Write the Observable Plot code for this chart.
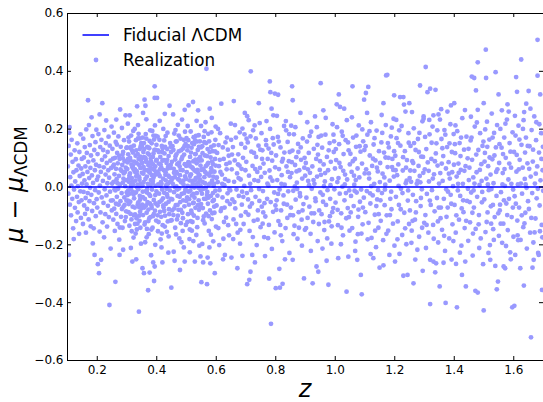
<!DOCTYPE html>
<html><head><meta charset="utf-8">
<script src="https://cdn.jsdelivr.net/npm/d3@7"></script>
<script src="https://cdn.jsdelivr.net/npm/@observablehq/plot@0.6"></script>
<style>html,body{margin:0;padding:0;background:#fff;overflow:hidden}</style>
</head><body><div id="chart"></div>
<script>
// Δμ realization points, grouped by redshift range: [z, mu - mu_LCDM]
const lowZ = [
[.101,.071],[.103,-.023],[.104,.142],[.105,-.235],[.106,.188],[.107,.207],[.108,-.061],[.109,.034],[.111,.112],[.112,-.098],[.113,.005],[.114,.163],[.116,-.041],[.117,.087],[.119,-.143],[.12,.051],[.121,-.18],[.122,-.009],[.124,.127],[.125,-.072],[.126,.019],[.128,.096],[.129,-.118],[.13,.058],[.132,-.034],[.133,.151],[.134,-.088],[.135,.003],[.137,.074],[.138,-.052],[.139,-.162],[.14,.121],[.141,.038],[.143,-.015],[.144,.182],[.145,-.107],[.146,.064],[.147,-.046],[.148,.097],[.149,.012],
[.151,.045],[.152,-.128],[.153,.167],[.154,-.017],[.155,.102],[.156,-.064],[.157,.023],[.158,.138],[.159,-.093],[.16,.071],[.161,-.038],[.162,-.158],[.163,.199],[.164,.009],[.165,.118],[.166,-.076],[.167,.052],[.168,-.021],[.169,.30],[.17,.087],[.171,-.112],[.172,.214],[.173,.031],[.174,-.049],[.175,.145],[.176,-.003],[.177,.066],[.178,-.136],[.179,.109],[.18,-.027],[.181,.241],[.182,.04],[.183,-.083],[.184,.176],[.185,-.195],[.186,.014],[.187,.092],[.188,-.143],[.189,-.056],[.19,.128],[.191,-.235],[.192,.058],[.193,-.011],[.194,.155],[.195,-.101],[.196,.077],[.197,.198],[.198,-.042],[.199,.025],
[.2,-.071],[.201,.114],[.202,-.267],[.203,.036],[.204,.183],[.205,-.019],[.206,-.298],[.207,.072],[.208,.251],[.208,-.154],[.209,.005],[.21,.138],[.211,-.088],[.212,.052],[.213,-.252],[.214,.163],[.215,-.036],[.216,.094],[.217,.29],[.218,-.122],[.219,.021],[.22,.128],[.221,-.055],[.222,.068],[.223,-.174],[.224,.197],[.225,-.008],[.226,.106],[.227,-.094],[.228,.043],[.229,.152],[.23,.23],[.231,-.029],[.232,.083],[.233,-.137],[.234,.013],[.235,.121],[.236,-.065],[.237,.058],[.238,.174],[.239,-.104],[.24,.032],[.241,-.408],[.242,.143],[.243,-.016],[.244,.091],[.245,-.213],[.246,-.047],[.247,.066],[.248,.209],[.249,-.081],[.25,.012],
[.251,.132],[.252,-.046],[.253,.071],[.254,-.113],[.255,.018],[.256,.188],[.257,-.075],[.258,.044],[.259,-.152],[.26,.101],[.261,-.328],[.261,-.012],[.262,.156],[.263,.063],[.264,.233],[.264,-.093],[.265,.027],[.266,-.034],[.267,.118],[.268,-.128],[.269,.082],[.27,-.006],[.271,.175],[.272,-.061],[.273,.038],[.274,-.182],[.275,.097],[.275,-.235],[.276,.009],[.277,.268],[.278,-.049],[.279,.139],[.28,-.103],[.281,.056],[.282,-.021],[.283,.204],[.284,.076],[.285,-.141],[.286,.015],[.287,-.217],[.287,.121],[.288,-.068],[.289,.047],[.29,.162],[.291,-.036],[.292,.089],[.293,-.118],[.294,.003],[.295,.248],[.296,.067],[.297,-.084],[.298,.135],[.299,-.019],[.253,.098],[.258,-.008],[.263,-.058],[.268,.013],[.273,.108],[.278,.061],[.283,-.076],[.288,.029],[.293,.052],[.298,-.047],[.256,.077],[.266,.147],[.276,-.14],[.286,.099],[.296,-.104]
];
const peakZ = [
[.301,.062],[.302,-.028],[.303,.219],[.304,.113],[.305,-.087],[.306,.018],[.307,.157],[.308,-.134],[.309,.248],[.31,.047],[.311,-.051],[.312,.092],[.313,-.006],[.314,.178],[.315,-.112],[.316,.031],[.317,.127],[.318,-.258],[.319,-.068],[.32,.074],[.321,.009],[.322,-.175],[.323,.143],[.324,-.039],[.325,.056],[.326,.201],[.327,-.095],[.328,.022],[.329,.108],[.33,-.019],[.331,-.25],[.332,.083],[.333,-.147],[.334,.279],[.335,.041],[.336,-.061],[.337,.168],[.338,-.008],[.339,.097],[.34,-.431],[.341,.034],[.342,-.117],[.343,.131],[.344,-.044],[.345,.066],[.346,.012],[.347,-.196],[.348,.152],[.349,-.074],[.35,.049],
[.3,.137],[.302,.085],[.304,-.012],[.306,-.059],[.308,.039],[.31,.101],[.312,-.093],[.314,.006],[.316,-.153],[.318,.068],[.32,.119],[.322,-.026],[.324,.088],[.326,-.071],[.328,.051],[.33,.162],[.332,-.108],[.334,-.001],[.336,.114],[.338,-.053],[.34,.077],[.342,.025],[.344,-.086],[.346,.141],[.348,.003],[.303,-.047],[.307,.029],[.311,.135],[.315,.077],[.319,-.016],[.323,-.098],[.327,.061],[.331,.037],[.335,-.127],[.339,.184],[.343,-.031],[.347,.093],[.305,.171],[.313,-.211],[.321,.194],[.329,-.161],[.337,.214],[.345,-.141],[.333,.054],[.341,-.07],
[.351,.083],[.352,-.281],[.353,-.035],[.354,.256],[.355,.121],[.356,.017],[.357,-.298],[.358,-.071],[.359,.302],[.36,.058],[.361,-.122],[.362,.281],[.363,.096],[.364,-.014],[.365,.167],[.366,-.089],[.367,.036],[.368,.139],[.369,-.052],[.37,.011],[.371,-.357],[.372,.075],[.373,-.163],[.374,.112],[.375,-.026],[.376,-.296],[.377,.049],[.378,.196],[.379,-.104],[.38,.024],[.381,.088],[.382,-.064],[.383,.151],[.384,-.009],[.385,.063],[.386,-.141],[.387,.104],[.388,-.261],[.389,.032],[.39,-.045],[.391,-.325],[.392,.128],[.393,.348],[.393,.308],[.393,-.275],[.394,-.082],[.395,.071],[.396,.004],[.397,.177],[.398,-.116],[.399,.044],
[.35,.142],[.352,.005],[.354,-.097],[.356,.069],[.358,.131],[.36,-.041],[.362,.028],[.364,.087],[.366,-.174],[.368,-.007],[.37,.116],[.372,-.078],[.374,.053],[.376,.159],[.378,-.031],[.38,.099],[.382,-.147],[.384,.041],[.386,.013],[.388,.078],[.39,-.094],[.392,.059],[.394,.213],[.396,-.057],[.398,.091],[.351,-.061],[.355,.046],[.359,-.13],[.363,.183],[.367,-.019],[.371,.137],[.375,-.108],[.379,.066],[.383,-.072],[.387,.021],[.391,.164],[.395,-.2],[.399,-.015],[.357,.103],[.365,.234],[.373,.009],[.381,-.236],[.389,.116],[.397,.048],[.361,-.191],[.369,.085],[.377,-.057],[.385,.194],[.353,.171],[.395,.128],
[.401,.308],[.402,.052],[.403,-.064],[.404,.127],[.405,.009],[.406,-.121],[.407,.081],[.408,-.023],[.409,.163],[.41,.038],[.411,-.086],[.412,.104],[.413,-.181],[.414,.017],[.415,.068],[.416,-.047],[.417,.142],[.418,-.009],[.419,.091],[.42,-.132],[.421,.029],[.422,.201],[.423,-.071],[.424,.058],[.425,-.02],[.426,.116],[.427,.253],[.428,-.099],[.429,.042],[.43,.176],[.431,-.058],[.432,.006],[.433,.083],[.434,-.155],[.435,.131],[.436,-.034],[.437,.064],[.438,.012],[.439,-.227],[.44,.107],[.441,-.077],[.442,.035],[.443,.281],[.444,-.012],[.445,.152],[.446,-.116],[.447,.076],[.448,-.041],[.449,-.348],[.45,.024],
[.4,.094],[.403,.174],[.406,.046],[.409,-.052],[.412,.004],[.415,-.103],[.418,.121],[.421,-.039],[.424,.093],[.427,-.137],[.43,.051],[.433,-.006],[.436,.188],[.439,.072],[.442,-.094],[.445,.018],[.448,.121],[.404,-.153],[.41,.229],[.416,-.209],[.422,-.064],[.428,.139],[.434,-.025],[.44,-.171],[.446,.066],[.413,.078],[.425,.161],[.437,-.119],[.419,-.261],
[.451,.087],[.452,-.043],[.453,.141],[.454,.011],[.455,.251],[.456,-.097],[.457,.063],[.458,-.018],[.459,.185],[.46,-.255],[.461,.034],[.462,-.141],[.463,.106],[.464,-.063],[.465,.052],[.466,.002],[.467,.158],[.468,-.112],[.469,.079],[.47,-.031],[.471,.215],[.472,.027],[.473,-.079],[.474,.123],[.475,-.005],[.476,-.178],[.477,.071],[.478,.041],[.479,-.052],[.48,.167],[.481,-.125],[.482,.016],[.483,.096],[.484,-.024],[.485,.233],[.486,-.089],[.487,.058],[.488,.133],[.489,-.046],[.49,.009],[.491,-.209],[.492,.112],[.493,-.067],[.494,.267],[.494,-.258],[.495,.037],[.496,-.01],[.497,.149],[.498,-.131],[.499,.073],
[.45,-.115],[.453,.031],[.456,.128],[.459,-.074],[.462,.095],[.465,-.164],[.468,.047],[.471,-.099],[.474,.178],[.477,-.034],[.48,.059],[.483,-.191],[.486,.104],[.489,.022],[.492,-.021],[.495,.191],[.498,.028],[.457,-.224],[.463,.197],[.469,-.009],[.475,.084],[.481,-.079],[.487,-.152],[.493,.141],[.499,-.048],[.466,.113],[.478,-.287],
[.501,.051],[.502,-.036],[.503,.127],[.504,.004],[.505,-.094],[.506,.162],[.507,.282],[.508,-.061],[.509,.076],[.51,.023],[.511,-.147],[.512,.104],[.513,-.013],[.514,.192],[.515,.044],[.516,-.082],[.517,.136],[.518,-.029],[.519,.068],[.52,-.121],[.521,.011],[.522,.294],[.523,.089],[.524,-.054],[.525,.148],[.526,-.002],[.527,.057],[.528,-.258],[.529,.114],[.53,-.072],[.531,.031],[.532,.177],[.533,-.166],[.534,.082],[.535,-.021],[.536,.059],[.537,-.107],[.538,.128],[.539,.265],[.54,.016],[.541,-.046],[.542,.097],[.543,-.203],[.544,.041],[.545,.158],[.546,-.068],[.547,.074],[.548,-.012],[.549,.211],[.55,-.329],
[.5,.169],[.503,-.121],[.506,.086],[.509,-.042],[.512,.038],[.515,.119],[.518,-.091],[.521,.064],[.524,.172],[.527,-.037],[.53,.095],[.533,.009],[.536,-.139],[.539,.048],[.542,-.079],[.545,.026],[.548,.137],[.504,.211],[.51,-.18],[.516,.001],[.522,-.056],[.528,.023],[.534,.229],[.54,-.003],[.546,.104],[.507,-.016],[.513,.071],[.519,.152],[.525,-.099],[.531,.114],[.537,.033],[.543,.091],[.549,-.059],[.511,-.226],[.523,-.187],[.535,.157],[.547,-.24],
[.551,.092],[.552,-.023],[.553,.141],[.554,.018],[.555,-.073],[.556,-.261],[.557,.061],[.558,.173],[.559,-.041],[.56,.034],[.561,-.126],[.562,.109],[.563,-.004],[.564,.224],[.565,.072],[.566,-.092],[.567,.409],[.568,.046],[.569,-.336],[.57,-.017],[.571,.131],[.572,-.058],[.573,.083],[.574,.008],[.575,-.152],[.576,.158],[.577,.039],[.578,.271],[.579,-.081],[.58,-.264],[.581,.102],[.582,-.031],[.583,.065],[.584,.189],[.585,-.111],[.586,.022],[.587,.124],[.588,-.049],[.589,.079],[.59,-.188],[.591,.004],[.592,.144],[.593,-.068],[.594,.053],[.595,-.298],[.596,.097],[.597,-.013],[.598,.209],[.599,-.137],[.6,.031],
[.55,.059],[.554,.117],[.558,-.102],[.562,.013],[.566,.152],[.57,.078],[.574,-.037],[.578,.121],[.582,-.165],[.586,.088],[.59,.036],[.594,-.089],[.598,.074],[.553,-.197],[.561,.193],[.569,-.028],[.577,-.209],[.585,.239],[.593,.011],[.557,-.006],[.565,-.041],[.573,.184],[.581,.051],[.589,-.021],[.597,.163],[.571,-.244],
[.601,-.064],[.603,.118],[.605,.017],[.607,-.142],[.609,.072],[.611,-.011],[.613,.186],[.615,-.083],[.617,.288],[.619,.043],[.621,-.036],[.623,-.25],[.625,.097],[.627,.006],[.629,-.235],[.631,.154],[.633,-.106],[.635,.061],[.637,-.049],[.639,.129],[.641,.021],[.643,-.167],[.645,.084],[.647,-.012],[.649,.219],[.602,.033],[.606,.201],[.61,-.201],[.614,.052],[.618,-.074],[.622,.137],[.626,-.121],[.63,.027],[.634,.079],[.638,-.022],[.642,.108],[.646,-.059],[.65,.163],[.604,-.03],[.612,.094],[.62,.011],[.628,-.071],[.636,.171],[.644,-.008],[.608,.145],[.624,-.179],[.64,-.132]
];
const coreFill = [
[.285,.112],[.292,-.062],[.297,.024],[.303,.096],[.309,-.023],[.314,.139],[.318,.018],[.322,.061],[.327,-.128],[.331,.127],[.336,.008],[.341,-.099],[.345,.105],[.349,.067],[.353,-.016],[.357,.152],[.361,.101],[.364,-.064],[.368,.058],[.372,-.118],[.375,.134],[.379,.007],[.383,.081],[.387,-.101],[.391,.039],[.395,-.028],[.399,.146],[.403,-.098],[.407,.121],[.411,.061],[.416,.011],[.42,.134],[.425,-.083],[.43,.023],[.435,.094],[.44,-.051],[.447,.139],[.452,-.081],[.458,.049],[.464,.157],[.47,-.062],[.476,.024],[.482,.127],[.488,-.108],[.494,.079],[.5,-.012],[.505,.141],[.51,.084],[.514,-.118],[.519,.021],[.524,-.024],[.529,.161],[.533,.053],[.538,-.063],[.542,.139],[.547,.005],[.552,.063],[.556,-.115],[.56,.155],[.565,-.003],[.569,.107],[.574,-.101],[.579,.012],[.583,.139],[.588,.054],[.592,-.045],[.596,.123],[.343,.168],[.367,-.145],[.389,.178],[.417,-.161],[.439,.039],[.462,-.001],[.491,.163],[.518,-.151],[.541,.179],[.563,.051],[.587,-.091]
];
const midZ = [
[.659,.297],[.651,-.244],[.671,-.281],[.688,-.238],[.688,.202],[.696,.256],
[.652,.061],[.654,-.043],[.656,.138],[.658,-.112],[.66,.018],[.662,.092],[.664,-.074],[.666,.171],[.668,-.009],[.67,.047],[.672,-.158],[.674,.113],[.676,-.031],[.678,.074],[.68,-.196],[.682,.026],[.684,.149],[.686,-.061],[.69,.101],[.692,-.128],[.694,.004],[.698,.058],[.699,-.087],[.657,-.18],[.663,.214],[.675,.031],[.687,-.016],[.695,.182],[.683,-.099],
[.704,.245],[.716,.40],[.715,.175],[.704,-.336],[.711,-.321],[.715,-.293],[.743,.29],[.746,.221],[.73,-.261],
[.701,.087],[.703,-.021],[.706,.154],[.708,-.096],[.71,.039],[.712,-.152],[.714,.011],[.718,.122],[.72,-.057],[.722,.073],[.724,.196],[.726,-.117],[.728,.024],[.732,-.034],[.734,.104],[.736,-.201],[.738,.052],[.74,-.081],[.742,.143],[.744,-.007],[.747,.066],[.749,-.139],[.709,.231],[.721,-.235],[.733,.168],[.745,-.048],[.713,-.068],[.727,.118],
[.78,.365],[.782,.328],[.797,.323],[.769,.228],[.784,-.473],[.778,-.317],[.786,.271],[.792,.248],
[.751,.035],[.753,-.068],[.755,.127],[.757,-.014],[.759,.081],[.761,-.173],[.763,.049],[.765,-.102],[.767,.162],[.771,-.041],[.773,.097],[.775,.005],[.777,-.131],[.779,.057],[.781,.201],[.783,-.052],[.785,.118],[.787,-.214],[.789,.022],[.791,-.086],[.793,.147],[.795,-.019],[.798,.068],[.752,.186],[.764,-.239],[.776,.133],[.788,.091],[.796,-.157],[.758,-.088],
[.808,.319],[.80,-.35],[.814,-.348],[.823,-.335],[.812,-.283],[.834,.228],[.831,-.25],
[.801,.109],[.803,-.046],[.805,.024],[.807,.173],[.809,-.118],[.811,.062],[.813,-.009],[.816,.137],[.818,-.081],[.82,.041],[.822,-.187],[.824,.097],[.826,-.029],[.828,.211],[.83,.008],[.833,-.142],[.836,.071],[.838,-.061],[.84,.156],[.842,-.015],[.844,.089],[.846,-.228],[.848,.034],[.849,-.097],[.804,.246],[.817,-.167],[.829,.119],[.841,.052],[.808,-.024],[.845,.183],
[.851,-.071],[.853,.048],[.855,.348],[.856,.126],[.857,.30],[.857,-.252],[.859,-.013],[.861,.182],[.863,-.134],[.865,.076],[.867,-.044],[.869,.103],[.871,.015],[.873,-.179],[.875,.149],[.877,-.087],[.879,.058],[.881,-.021],[.883,.256],[.885,.094],[.887,-.113],[.889,.029],[.891,.168],[.893,-.059],[.895,-.316],[.896,.067],[.898,-.148],[.852,.212],[.864,.002],[.876,.121],[.888,-.203],[.899,.039],[.858,-.098],[.882,-.032],
[.901,.083],[.903,-.037],[.905,.157],[.907,-.107],[.909,.021],[.911,.118],[.913,-.068],[.915,.049],[.917,-.162],[.919,.191],[.921,-.006],[.923,.071],[.924,-.333],[.926,-.121],[.928,.132],[.93,.011],[.932,.244],[.934,-.049],[.936,.097],[.937,-.275],[.939,.036],[.941,-.187],[.943,-.293],[.944,.173],[.946,-.081],[.948,.059],[.95,-.019],[.906,.224],[.918,-.221],[.929,-.091],[.942,.112],[.912,.006],[.938,.207],
[.951,.359],[.952,.042],[.954,-.094],[.956,.136],[.958,-.027],[.96,.265],[.961,.078],[.963,-.149],[.965,.019],[.967,.181],[.969,-.062],[.971,-.255],[.972,.104],[.974,-.011],[.976,.058],[.977,-.338],[.979,-.119],[.981,.152],[.983,-.041],[.985,.087],[.987,-.196],[.989,.027],[.991,.217],[.993,-.073],[.995,.121],[.997,-.008],[.999,.064],[.957,-.213],[.968,.239],[.982,-.101],[.994,.181],[.962,.003],[.988,-.136],
[1.001,-.054],[1.003,.093],[1.005,.286],[1.007,.017],[1.009,-.132],[1.01,-.246],[1.012,.32],[1.013,.148],[1.015,-.023],[1.016,.277],[1.018,.069],[1.02,-.091],[1.022,.191],[1.024,.001],[1.026,-.167],[1.028,.114],[1.03,.271],[1.031,-.046],[1.033,.043],[1.035,.162],[1.037,-.108],[1.038,-.362],[1.04,.026],[1.042,-.073],[1.044,-.241],[1.045,.127],[1.047,-.012],[1.049,.078],[1.006,.207],[1.019,-.198],[1.027,.056],[1.039,.231],[1.048,-.151],[1.011,.031],
[1.051,.115],[1.053,-.031],[1.055,.052],[1.057,-.142],[1.058,.348],[1.06,.171],[1.062,-.066],[1.064,.008],[1.066,.097],[1.068,-.189],[1.07,.139],[1.072,-.019],[1.074,-.252],[1.075,.064],[1.077,-.103],[1.079,.213],[1.081,.033],[1.083,-.051],[1.085,.122],[1.086,-.304],[1.087,-.009],[1.089,-.371],[1.09,.081],[1.092,-.129],[1.094,.158],[1.096,-.037],[1.097,.302],[1.099,.047],[1.056,.241],[1.067,-.221],[1.078,-.078],[1.091,.199],[1.063,.039],[1.088,-.161],
[1.101,-.087],[1.103,.325],[1.104,.061],[1.106,-.014],[1.108,.181],[1.111,.346],[1.112,-.124],[1.114,.029],[1.116,.109],[1.118,-.057],[1.12,.224],[1.122,-.176],[1.124,.073],[1.126,-.029],[1.128,-.246],[1.129,.147],[1.131,.011],[1.133,-.096],[1.135,.092],[1.137,-.208],[1.139,.195],[1.141,-.043],[1.143,.054],[1.145,-.141],[1.147,.124],[1.149,-.279],[1.15,.017],[1.107,.256],[1.119,-.232],[1.132,.169],[1.144,-.011],[1.113,.047],[1.138,-.066]
];
const highZ = [
[1.151,.083],[1.153,-.117],[1.155,.154],[1.157,-.021],[1.159,.046],[1.161,-.184],[1.162,.29],[1.162,-.271],[1.164,.119],[1.166,-.063],[1.168,.008],[1.17,.214],[1.171,.386],[1.173,-.098],[1.175,.388],[1.176,.069],[1.178,-.151],[1.18,.137],[1.182,-.235],[1.183,.022],[1.185,-.041],[1.187,.175],[1.189,-.077],[1.19,.205],[1.192,.097],[1.194,-.127],[1.196,.236],[1.197,.036],[1.199,-.203],[1.156,.249],[1.167,-.009],[1.179,.101],[1.188,-.016],[1.195,.059],
[1.198,.317],[1.201,-.258],[1.202,.108],[1.204,-.034],[1.206,.169],[1.208,.041],[1.21,-.119],[1.212,.078],[1.214,-.062],[1.216,-.231],[1.218,.311],[1.219,.143],[1.221,-.006],[1.223,.211],[1.225,-.166],[1.227,.057],[1.229,.311],[1.229,-.307],[1.231,.285],[1.232,-.089],[1.234,.124],[1.236,.261],[1.237,.013],[1.239,-.198],[1.241,.093],[1.243,-.304],[1.244,-.047],[1.246,.186],[1.248,-.128],[1.249,.29],[1.25,.031],[1.205,.232],[1.213,.004],[1.226,-.021],[1.238,.067],[1.247,.153],
[1.251,-.081],[1.253,.142],[1.255,.018],[1.257,-.151],[1.259,.089],[1.261,-.027],[1.263,-.333],[1.264,.203],[1.266,.056],[1.268,-.113],[1.27,.128],[1.272,-.049],[1.274,.011],[1.276,-.217],[1.278,.166],[1.28,.073],[1.282,-.172],[1.284,.038],[1.285,.351],[1.287,-.066],[1.289,.105],[1.291,-.008],[1.293,.227],[1.294,-.29],[1.296,.049],[1.297,.244],[1.297,.236],[1.299,-.124],[1.258,.259],[1.269,-.251],[1.281,.121],[1.292,-.141],[1.262,.083],[1.286,.016],
[1.301,.061],[1.303,-.097],[1.304,.415],[1.306,.131],[1.308,-.024],[1.31,.328],[1.311,.085],[1.313,-.158],[1.315,.019],[1.317,.182],[1.319,.34],[1.319,-.405],[1.319,-.252],[1.321,-.062],[1.323,.097],[1.325,-.011],[1.327,.209],[1.329,-.131],[1.33,.248],[1.33,-.258],[1.332,.044],[1.334,-.084],[1.336,-.295],[1.337,.336],[1.339,-.264],[1.34,.151],[1.342,-.038],[1.344,.074],[1.346,-.192],[1.347,.251],[1.349,.012],[1.305,-.211],[1.316,.232],[1.328,.029],[1.338,.116],[1.345,-.119],
[1.351,-.344],[1.352,.233],[1.353,.048],[1.355,-.071],[1.357,.166],[1.359,-.148],[1.361,.021],[1.363,.107],[1.365,-.041],[1.367,.197],[1.369,-.221],[1.371,-.401],[1.372,.064],[1.374,-.103],[1.376,.138],[1.377,.261],[1.379,-.016],[1.381,.086],[1.383,-.178],[1.385,.029],[1.387,.217],[1.389,.282],[1.39,-.058],[1.392,.121],[1.394,-.129],[1.396,.003],[1.398,.183],[1.356,.269],[1.364,-.262],[1.373,-.008],[1.382,.046],[1.391,-.251],[1.399,.077],[1.36,.134],
[1.40,.29],[1.401,-.062],[1.403,.117],[1.405,-.158],[1.406,-.266],[1.408,.036],[1.409,-.416],[1.41,.193],[1.412,-.012],[1.414,.081],[1.416,-.113],[1.418,.152],[1.42,-.031],[1.422,.059],[1.424,-.203],[1.426,-.304],[1.427,.238],[1.429,.011],[1.431,-.087],[1.433,.129],[1.435,-.142],[1.437,-.258],[1.438,.072],[1.439,-.344],[1.441,.174],[1.443,-.048],[1.445,.099],[1.447,-.186],[1.449,.024],[1.404,.213],[1.415,.049],[1.425,-.074],[1.436,.266],[1.446,-.006],[1.421,.107],
[1.451,.067],[1.453,-.122],[1.455,.161],[1.457,-.019],[1.459,.382],[1.46,.094],[1.462,-.237],[1.464,.033],[1.466,-.071],[1.467,.377],[1.469,.209],[1.471,-.359],[1.472,-.145],[1.473,.334],[1.475,.051],[1.477,-.034],[1.479,.431],[1.479,.267],[1.479,-.365],[1.481,.128],[1.483,-.097],[1.485,.007],[1.487,.186],[1.489,-.178],[1.491,.079],[1.493,-.053],[1.495,.142],[1.497,-.267],[1.499,.29],[1.499,-.427],[1.456,.243],[1.465,-.012],[1.474,.112],[1.484,-.211],[1.492,.021],[1.461,-.089],
[1.501,-.043],[1.503,.118],[1.505,-.156],[1.506,.475],[1.507,.377],[1.508,.029],[1.51,.226],[1.512,-.088],[1.514,.072],[1.516,-.011],[1.518,.164],[1.52,-.201],[1.521,-.252],[1.522,.043],[1.524,-.127],[1.526,.254],[1.528,.096],[1.53,-.062],[1.532,.013],[1.534,.187],[1.536,-.104],[1.538,-.273],[1.539,.397],[1.54,.137],[1.542,-.031],[1.543,-.354],[1.545,.061],[1.547,-.327],[1.549,.32],[1.55,-.169],[1.504,.199],[1.515,-.228],[1.525,-.007],[1.535,.109],[1.544,.214],[1.511,.139],[1.531,-.146],
[1.551,.083],[1.553,-.081],[1.555,.201],[1.557,-.018],[1.559,.136],[1.56,.265],[1.561,-.193],[1.563,.048],[1.565,-.127],[1.566,-.275],[1.568,.171],[1.57,.004],[1.571,-.281],[1.573,.101],[1.575,-.057],[1.577,.233],[1.579,.286],[1.58,-.149],[1.582,.026],[1.584,-.041],[1.586,.152],[1.588,-.226],[1.59,-.25],[1.591,.067],[1.593,-.104],[1.595,-.416],[1.596,.189],[1.598,-.009],[1.554,-.061],[1.564,.114],[1.574,-.204],[1.583,.261],[1.592,.011],[1.599,-.172],[1.569,.062],
[1.601,.121],[1.602,-.411],[1.603,-.032],[1.605,-.235],[1.606,.178],[1.608,.38],[1.609,.053],[1.611,.329],[1.612,-.116],[1.614,.009],[1.616,.212],[1.618,-.071],[1.62,.094],[1.622,-.281],[1.623,-.183],[1.625,.441],[1.626,.146],[1.628,-.023],[1.63,.067],[1.632,-.139],[1.634,-.341],[1.635,.259],[1.637,.028],[1.639,-.089],[1.641,.171],[1.642,.288],[1.644,-.213],[1.646,.082],[1.648,-.049],[1.604,.246],[1.613,-.167],[1.624,.012],[1.633,.231],[1.643,-.003],[1.617,.061],[1.638,.119],
[1.65,.332],[1.651,-.076],[1.653,.141],[1.655,-.158],[1.657,.036],[1.658,-.52],[1.66,.197],[1.662,-.021],[1.664,.088],[1.666,-.192],[1.667,-.252],[1.669,.244],[1.671,.012],[1.673,-.109],[1.675,.162],[1.677,-.039],[1.679,.071],[1.68,.509],[1.68,.385],[1.682,-.228],[1.684,-.235],[1.685,.119],[1.687,-.064],[1.689,.32],[1.69,.023],[1.692,.186],[1.694,-.131],[1.695,-.356],[1.697,.058],[1.699,-.013],[1.656,.271],[1.663,-.279],[1.674,.046],[1.686,.217],[1.696,-.174]
];
const outerFill = [
[.653,.112],[.667,-.128],[.679,.189],[.691,-.034],[.697,.136],[.661,-.052],[.673,.078],[.685,.063],[.681,-.148],
[.702,.167],[.717,-.011],[.723,-.173],[.731,.062],[.739,-.113],[.748,.129],[.707,-.043],[.729,.213],[.741,.021],
[.754,.097],[.762,-.056],[.768,.145],[.774,-.177],[.782,.033],[.79,.169],[.799,-.064],[.756,-.127],[.772,.012],
[.802,-.079],[.81,.157],[.815,-.131],[.821,.088],[.827,-.058],[.835,.196],[.839,-.107],[.847,.121],[.819,.011],
[.854,.086],[.86,-.163],[.866,.207],[.872,-.007],[.878,-.141],[.884,.137],[.89,-.081],[.897,.101],[.87,.054],
[.902,-.142],[.908,.061],[.914,.176],[.92,-.091],[.927,.024],[.933,-.039],[.94,.146],[.945,-.128],[.949,.089],
[.953,.178],[.959,-.051],[.966,.048],[.973,-.178],[.978,.127],[.984,.006],[.99,-.087],[.996,.158],[.964,-.121],
[1.002,.131],[1.008,-.079],[1.014,.083],[1.021,-.141],[1.025,.177],[1.032,.009],[1.036,-.021],[1.043,.154],[1.046,-.104],
[1.052,-.088],[1.059,.089],[1.065,-.013],[1.071,.178],[1.076,-.163],[1.082,.141],[1.093,-.071],[1.098,.128],[1.069,.024],
[1.102,.141],[1.109,-.181],[1.115,.193],[1.121,.003],[1.127,.098],[1.134,-.151],[1.14,.067],[1.146,-.094],[1.117,-.022],
[1.152,-.046],[1.158,.187],[1.165,.033],[1.172,-.162],[1.177,.152],[1.184,-.097],[1.191,.069],[1.198,.124],[1.169,.102],
[1.203,.058],[1.209,-.181],[1.215,.196],[1.22,-.077],[1.228,.103],[1.235,-.143],[1.24,.022],[1.245,-.012],[1.211,.152],
[1.252,.057],[1.256,-.193],[1.265,.152],[1.271,-.088],[1.277,.021],[1.283,.187],[1.288,-.038],[1.295,.104],[1.26,-.117],
[1.302,.173],[1.307,-.131],[1.314,.056],[1.318,-.047],[1.324,.153],[1.331,-.179],[1.335,.089],[1.343,.196],[1.348,-.071],
[1.354,-.108],[1.358,.081],[1.366,-.169],[1.37,.181],[1.378,-.071],[1.384,.151],[1.388,-.027],[1.393,.051],[1.397,-.187],
[1.402,.148],[1.407,-.098],[1.413,.011],[1.419,-.227],[1.423,.171],[1.43,-.046],[1.434,.056],[1.44,-.117],[1.448,.132],
[1.452,-.052],[1.458,.171],[1.463,-.161],[1.468,.012],[1.476,.223],[1.482,-.129],[1.486,.059],[1.494,-.017],[1.498,.157],
[1.502,.088],[1.509,-.121],[1.513,.009],[1.519,.102],[1.523,-.067],[1.529,.171],[1.533,-.183],[1.541,.052],[1.548,-.091],
[1.552,.148],[1.556,-.127],[1.562,.009],[1.567,-.046],[1.572,.219],[1.578,-.097],[1.585,.081],[1.589,.122],[1.597,-.071],
[1.607,-.058],[1.61,.111],[1.615,-.184],[1.619,.164],[1.627,-.098],[1.631,.201],[1.636,-.126],[1.64,.009],[1.647,.142],
[1.652,.063],[1.659,-.107],[1.665,.129],[1.67,-.157],[1.676,.224],[1.681,-.006],[1.688,-.153],[1.693,.097],[1.698,.139]
];
const fiducial = [0];               // Δμ of the fiducial ΛCDM model
const xTicks = [0.2, 0.4, 0.6, 0.8, 1.0, 1.2, 1.4, 1.6];
const yTicks = [-0.6, -0.4, -0.2, 0.0, 0.2, 0.4, 0.6];
const xDomain = [0.1, 1.7];
const yDomain = [-0.6, 0.6];

const points = [...lowZ, ...peakZ, ...coreFill, ...midZ, ...highZ, ...outerFill].map(([z, dmu]) => ({z, dmu}));

const W = 543, H = 402, mL = 67, mR = 0, mT = 13, mB = 42;
const innerH = H - mT - mB, innerW = W - mL - mR, tick = 4;
const fmt = d3.format(".1f");

const plot = Plot.plot({
  width: W, height: H,
  marginLeft: mL, marginRight: mR, marginTop: mT, marginBottom: mB,
  style: {fontFamily: "DejaVu Sans, sans-serif", fontSize: "12px", color: "#000", background: "#fff"},
  x: {domain: xDomain},
  y: {domain: yDomain},
  marks: [
    Plot.dot(points, {x: "z", y: "dmu", r: 2.4, fill: "#9999ff", clip: true}),
    Plot.ruleY(fiducial, {stroke: "#0000ff", strokeWidth: 1.5}),
    Plot.frame({stroke: "#000", strokeWidth: 1}),
    Plot.ruleX(xTicks, {insetTop: innerH - tick, stroke: "#000"}),
    Plot.ruleX(xTicks, {insetBottom: innerH - tick, stroke: "#000"}),
    Plot.ruleY(yTicks, {insetRight: innerW - tick, stroke: "#000"}),
    Plot.ruleY(yTicks, {insetLeft: innerW - tick, stroke: "#000"}),
    Plot.axisX(xTicks, {tickSize: 0, tickPadding: 5, tickFormat: fmt, label: null}),
    Plot.axisY(yTicks, {tickSize: 0, tickPadding: 4, tickFormat: fmt, label: null})
  ]
});

const svg = d3.select(plot);
const midY = (plot.scale("y").apply(yDomain[0]) + plot.scale("y").apply(yDomain[1])) / 2;
const midX = (plot.scale("x").apply(xDomain[0]) + plot.scale("x").apply(xDomain[1])) / 2;

// y-axis label: μ − μ_ΛCDM
const yl = svg.append("text")
  .attr("transform", `translate(23,${midY - 2}) rotate(-90)`)
  .attr("text-anchor", "middle")
  .attr("font-family", "DejaVu Sans, sans-serif")
  .attr("font-size", 24).attr("fill", "#000");
yl.append("tspan").attr("font-style", "italic").text("μ");
yl.append("tspan").text(" − ");
yl.append("tspan").attr("font-style", "italic").text("μ");
yl.append("tspan").attr("font-size", 16.8).attr("dy", 4).text("ΛCDM");

// x-axis label
svg.append("text")
  .attr("x", midX).attr("y", 397)
  .attr("text-anchor", "middle")
  .attr("font-family", "DejaVu Sans, sans-serif")
  .attr("font-size", 24).attr("font-style", "italic").attr("fill", "#000")
  .text("z");

// legend
const lg = svg.append("g").attr("font-family", "DejaVu Sans, sans-serif").attr("font-size", 16.8)
  .attr("fill", "#000").attr("text-anchor", "start");
lg.append("line").attr("x1", mL + 15.5).attr("x2", mL + 42).attr("y1", 35).attr("y2", 35)
  .attr("stroke", "#0000ff").attr("stroke-width", 1.5);
lg.append("text").attr("x", mL + 56).attr("y", 40.5).attr("text-anchor", "start").text("Fiducial ΛCDM");
lg.append("circle").attr("cx", mL + 29).attr("cy", 60).attr("r", 2.4).attr("fill", "#9999ff");
lg.append("text").attr("x", mL + 56).attr("y", 65.5).attr("text-anchor", "start").text("Realization");

document.getElementById("chart").append(plot);
</script>
</body></html>
